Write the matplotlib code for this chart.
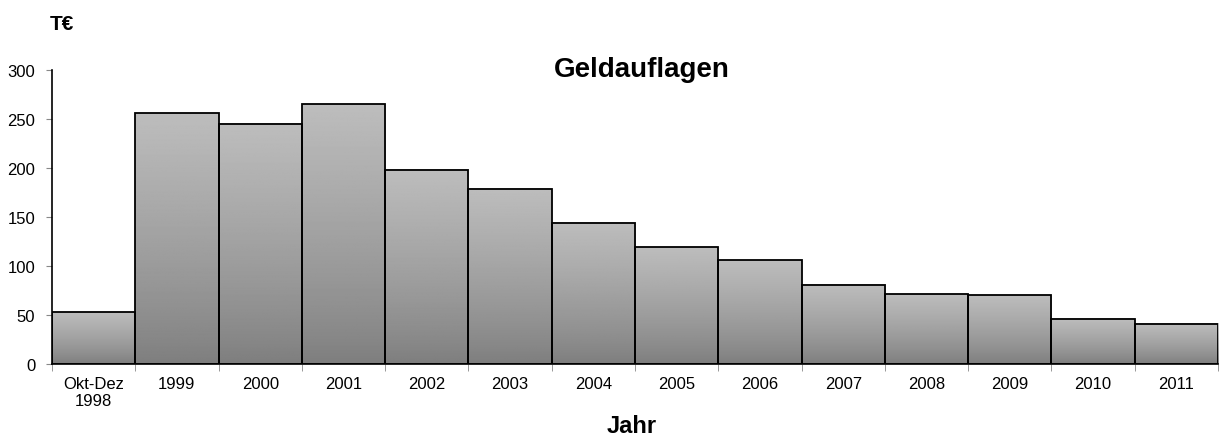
import matplotlib.pyplot as plt
import numpy as np

plt.rcParams["font.family"] = ["Liberation Sans", "DejaVu Sans"]

categories = ["Okt-Dez\n1998", "1999", "2000", "2001", "2002", "2003", "2004",
              "2005", "2006", "2007", "2008", "2009", "2010", "2011"]
values = [53, 256, 245, 265, 198, 179, 144, 119, 106, 81, 71, 70, 46, 41]
y_ticks = [0, 50, 100, 150, 200, 250, 300]

fig = plt.figure(figsize=(12.19, 4.39), dpi=100)
ax = fig.add_axes([52 / 1219, 1 - 365 / 439, 1166 / 1219, 294 / 439])

# vertical gradient, light on top, darker at the bottom
t = np.linspace(0, 1, 256)
grad = (0.49 + 0.25 * t ** 0.8).reshape(-1, 1)
x = np.arange(len(values))
for xi, v in zip(x, values):
    ax.imshow(grad, extent=(xi - 0.5, xi + 0.5, 0, v), origin="lower",
              cmap="gray", vmin=0, vmax=1, aspect="auto", zorder=1)
ax.bar(x, values, width=1.0, facecolor="none", edgecolor="black",
       linewidth=1.3, zorder=2)

ax.set_xlim(-0.5, len(values) - 0.5)
ax.set_ylim(0, 300)
ax.set_yticks(y_ticks)
ax.set_xticks(x)
ax.set_xticklabels(categories, linespacing=1.1)
ax.set_xticks(np.arange(len(values) + 1) - 0.5, minor=True)
ax.tick_params(axis="x", which="major", length=0, labelsize=12, pad=9)
ax.tick_params(axis="x", which="minor", length=5, color="#888888")
ax.tick_params(axis="y", length=4, color="#888888", labelsize=12, pad=8)

for side in ["top", "right"]:
    ax.spines[side].set_visible(False)
ax.spines["left"].set_linewidth(1.2)
ax.spines["bottom"].set_linewidth(1.2)

fig.text(642 / 1219, 1 - 70 / 439, "Geldauflagen", ha="center", va="center",
         fontsize=20, fontweight="bold")
fig.text(50 / 1219, 1 - 25 / 439, "T€", ha="left", va="center",
         fontsize=15, fontweight="bold")
fig.text(632 / 1219, 1 - 427 / 439, "Jahr", ha="center", va="center",
         fontsize=17, fontweight="bold")

fig.savefig("out.png", dpi=100)
